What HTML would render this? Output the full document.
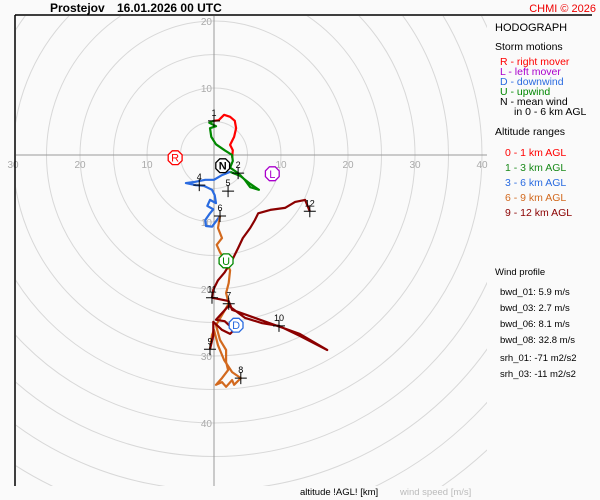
<!DOCTYPE html>
<html><head><meta charset="utf-8"><style>
html,body{margin:0;padding:0;width:600px;height:500px;overflow:hidden;background:#fafafa;font-family:"Liberation Sans",sans-serif;}
svg{display:block;position:absolute;left:0;top:0}
</style></head><body>
<svg id="chart" width="600" height="500" viewBox="0 0 600 500" xmlns="http://www.w3.org/2000/svg">
<defs><clipPath id="plotclip"><rect x="16" y="16" width="471" height="470"/></clipPath></defs>
<rect x="0" y="0" width="600" height="500" fill="#fafafa"/>
<g id="rings" clip-path="url(#plotclip)"></g>
<g id="axes"></g>
<g id="series"></g>
<g id="marks"></g>
<g id="storms"></g>
<line x1="15" y1="15" x2="15" y2="486" stroke="#000" stroke-width="1.5"/>
<line x1="15" y1="15" x2="592" y2="15" stroke="#000" stroke-width="1.5"/>
<text x="50" y="12" font-size="12" font-weight="bold" fill="#000">Prostejov</text>
<text x="117" y="12" font-size="12" font-weight="bold" fill="#000">16.01.2026 00 UTC</text>
<text x="596" y="12" font-size="11" fill="#e00" text-anchor="end">CHMI © 2026</text>
<g font-size="10.5">
<text x="495" y="31" font-size="11" fill="#000">HODOGRAPH</text>
<text x="495" y="50" fill="#000">Storm motions</text>
<text x="500" y="65" fill="#f00">R - right mover</text>
<text x="500" y="75" fill="#a0c">L - left mover</text>
<text x="500" y="85" fill="#2a6be0">D - downwind</text>
<text x="500" y="95" fill="#080">U - upwind</text>
<text x="500" y="105" fill="#000">N - mean wind</text>
<text x="514" y="115" fill="#000">in 0 - 6 km AGL</text>
<text x="495" y="135" fill="#000">Altitude ranges</text>
<text x="505" y="156" fill="#f00">0 - 1 km AGL</text>
<text x="505" y="171" fill="#1a8a1a">1 - 3 km AGL</text>
<text x="505" y="186" fill="#2a6be0">3 - 6 km AGL</text>
<text x="505" y="201" fill="#d2691e">6 - 9 km AGL</text>
<text x="505" y="216" fill="#8b0000">9 - 12 km AGL</text>
<text x="495" y="275" font-size="9.5" fill="#000">Wind profile</text>
<text x="500" y="295" font-size="9.5" fill="#000">bwd_01: 5.9 m/s</text>
<text x="500" y="311" font-size="9.5" fill="#000">bwd_03: 2.7 m/s</text>
<text x="500" y="327" font-size="9.5" fill="#000">bwd_06: 8.1 m/s</text>
<text x="500" y="343" font-size="9.5" fill="#000">bwd_08: 32.8 m/s</text>
<text x="500" y="361" font-size="9.5" fill="#000">srh_01: -71 m2/s2</text>
<text x="500" y="377" font-size="9.5" fill="#000">srh_03: -11 m2/s2</text>
</g>
<text x="300" y="495" font-size="9.5" fill="#000">altitude !AGL! [km]</text>
<text x="400" y="495" font-size="9.5" fill="#bbb">wind speed [m/s]</text>
</svg>
<script>
const seg01 = [[2.7,-0.4],[2.8,0.7],[2.4,1.5],[3.0,2.7],[3.3,4.0],[3.1,5.1],[2.4,5.7],[1.5,6.0],[0.7,5.2],[0,5.1]];
const seg13 = [[0,5.1],[-0.7,4.8],[0.3,4.3],[-0.6,4.0],[-0.4,2.7],[0.3,1.6],[1.6,0.7],[2.7,0],[2.8,-0.9],[2.4,-1.9],[3.6,-2.7],[4.6,-3.7],[5.4,-4.8],[6.7,-5.2],[5.4,-4.3],[3.9,-3.1],[2.4,-2.5]];
const seg36 = [[2.4,-2.5],[1.2,-3.0],[0,-3.7],[-1.3,-3.7],[-2.8,-4.0],[-4.2,-4.2],[-2.7,-4.5],[-1.5,-4.6],[-0.3,-5.2],[0.1,-6.0],[0.3,-7.2],[-0.6,-6.7],[-1.0,-7.6],[-0.1,-8.1],[-0.6,-8.7],[-1.3,-9.7],[-1.2,-10.6],[-0.3,-10.7],[0.9,-9.1]];
const seg69 = [[0.9,-9.1],[0.6,-10.9],[1.2,-12.4],[0.4,-13.4],[0.9,-14.5],[1.8,-16.0],[2.4,-17.2],[2.2,-19.1],[1.8,-20.6],[2.2,-22.2],[1.2,-23.9],[0.3,-25.4],[0.9,-27.6],[1.8,-29.1],[1.8,-30.9],[2.1,-32.1],[1.2,-33.3],[0.3,-34.3],[1.2,-33.9],[1.8,-34.6],[2.7,-33.6],[3.0,-34.3],[4.0,-33.3],[2.7,-32.4],[1.5,-30.6],[0.6,-28.4],[0,-26.1],[-0.3,-26.9],[-0.6,-29.0]];
const seg912 = [[-0.6,-29.0],[-0.1,-26.9],[-0.1,-24.9],[1.2,-26.1],[2.4,-26.7],[3.0,-26.1],[1.6,-24.8],[0.3,-24.6],[2.2,-22.5],[4.6,-24.3],[7.2,-25.1],[9.7,-25.5],[12.8,-27.0],[16.9,-29.1],[12.8,-26.7],[6.9,-24.6],[2.7,-23.1],[2.2,-21.8],[-0.3,-21.3],[-0.1,-20.1],[0.6,-18.7],[1.6,-17.5],[2.7,-15.7],[3.6,-13.9],[4.3,-12.4],[5.4,-10.9],[6.1,-9.7],[6.6,-8.7],[8.4,-8.2],[10.6,-7.9],[12.1,-7.0],[13.6,-6.7],[14.3,-8.4]];
const heightLabels = ["1","2","4","5","6","7","8","9","10","11","12"];
const heightPoints = [[0,5.1],[3.6,-2.7],[-2.2,-4.5],[2.1,-5.4],[0.9,-9.1],[2.2,-22.2],[4.0,-33.3],[-0.6,-29.0],[9.7,-25.5],[-0.3,-21.3],[14.3,-8.4]];
const stormLabels = ["R","L","N","U","D"];
const stormPoints = [[-5.8,-0.4],[8.7,-2.8],[1.3,-1.6],[1.8,-15.8],[3.3,-25.4]];
const ringTickLabels = ["10","20","30","40"];
const ringTickValues = [10,20,30,40];

const NS='http://www.w3.org/2000/svg';
const CX=214, CY=155, SC=6.7;
function xs(u){return CX+u*SC;}
function ys(v){return CY-v*SC;}
function mk(tag,attrs,parent){const e=document.createElementNS(NS,tag);for(const k in attrs)e.setAttribute(k,attrs[k]);parent.appendChild(e);return e;}

const rings=document.getElementById('rings');
for(let r=5;r<=60;r+=5){
  const c=mk('circle',{cx:CX,cy:CY,r:r*SC,fill:'none',stroke:'#d8d8d8','stroke-width':1},rings);
  
  
}
const axes=document.getElementById('axes');
const hx=mk('line',{x1:16,y1:CY,x2:487,y2:CY,stroke:'#999','stroke-width':1},axes);


const vx=mk('line',{x1:CX,y1:16,x2:CX,y2:486,stroke:'#999','stroke-width':1},axes);


ringTickValues.forEach((v,i)=>{
  const pos=[[xs(v),CY+13,'middle'],[xs(-v),CY+13,'middle'],[CX-2,ys(v)+4,'end'],[CX-2,ys(-v)+4,'end']];
  pos.forEach(p=>{
    if(p[0]<10||p[0]>490||p[1]>490)return;
    const t=mk('text',{x:p[0],y:p[1],'font-size':10,fill:'#aaa','text-anchor':p[2]},axes);
    t.textContent=ringTickLabels[i];
    
    
  });
});

const series=document.getElementById('series');
const segs=[[seg01,'#f00','series-0-1km'],[seg13,'#080','series-1-3km'],[seg36,'#2a6be0','series-3-6km'],[seg69,'#d2691e','series-6-9km'],[seg912,'#8b0000','series-9-12km']];
segs.forEach(s=>{
  const d=s[0].map((p,i)=>(i?'L':'M')+xs(p[0]).toFixed(1)+','+ys(p[1]).toFixed(1)).join(' ');
  const path=mk('path',{d:d,fill:'none',stroke:s[1],'stroke-width':2.2,'stroke-linejoin':'round'},series);
  
  
});

const marks=document.getElementById('marks');
heightPoints.forEach((p,i)=>{
  const x=xs(p[0]),y=ys(p[1]);
  const g=mk('path',{d:`M${x-6},${y}H${x+6}M${x},${y-6}V${y+6}`,stroke:'#000','stroke-width':1},marks);
  
  
  const t=mk('text',{x:x,y:y-5,'font-size':9,fill:'#000','text-anchor':'middle'},marks);
  t.textContent=heightLabels[i];
  
  
});

const storms=document.getElementById('storms');
const stormColors=['#f00','#a0c','#000','#080','#2a6be0'];
stormPoints.forEach((p,i)=>{
  const x=xs(p[0]),y=ys(p[1]),r=7.5;
  let pts=[];
  for(let k=0;k<8;k++){const a=Math.PI/8+k*Math.PI/4;pts.push((x+r*Math.cos(a)).toFixed(1)+','+(y+r*Math.sin(a)).toFixed(1));}
  const o=mk('polygon',{points:pts.join(' '),fill:'#fff',stroke:stormColors[i],'stroke-width':1.3},storms);
  
  
  const t=mk('text',{x:x,y:y+4,'font-size':11,fill:stormColors[i],'text-anchor':'middle','font-weight':stormLabels[i]==='N'?'bold':'normal'},storms);
  t.textContent=stormLabels[i];
  
  
});
</script>
</body></html>
